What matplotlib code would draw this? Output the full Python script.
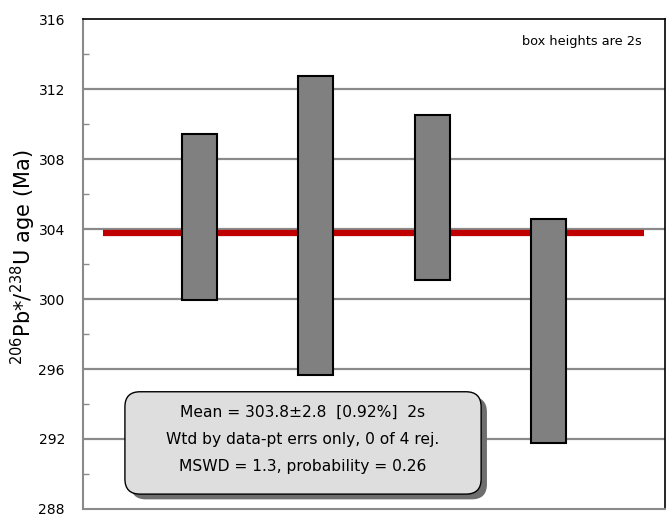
import numpy as np
import matplotlib
matplotlib.use("Agg")
import matplotlib.pyplot as plt
from matplotlib.patches import FancyBboxPatch
from matplotlib.ticker import MultipleLocator

# Weighted-mean plot: 206Pb*/238U ages, box heights are 2s
spots = [1, 2, 3, 4]
age_low = [299.95, 295.65, 301.10, 291.75]
age_high = [309.45, 312.75, 310.50, 304.55]
mean_age = 303.8
mean_err = 2.8

stats_lines = [
    "Mean = 303.8\u00b12.8  [0.92%]  2s",
    "Wtd by data-pt errs only, 0 of 4 rej.",
    "MSWD = 1.3, probability = 0.26",
]

fig = plt.figure(figsize=(6.7, 5.19), dpi=100)
ax = fig.add_axes([0.1239, 0.0193, 0.8687, 0.944])

ax.set_xlim(0, 5)
ax.set_ylim(288, 316)

# horizontal grid
for y in np.arange(292, 316, 4):
    ax.axhline(y, color="#8a8a8a", lw=1.6, zorder=1)

# mean line
ax.plot([0.17, 4.82], [mean_age, mean_age], color="#c00000", lw=4.5,
        solid_capstyle="butt", zorder=2)

# error boxes
heights = np.array(age_high) - np.array(age_low)
ax.bar(spots, heights, bottom=age_low, width=0.3, color="#808080",
       edgecolor="black", linewidth=1.5, zorder=3)

# stats box with drop shadow
aspect = (582 / 5) / (490 / 28)
bx, by, bw, bh = 0.36, 288.85, 3.06, 5.85
shadow = FancyBboxPatch((bx + 0.05, by - 0.3), bw, bh,
                        boxstyle="round,pad=0,rounding_size=0.13",
                        mutation_aspect=aspect, facecolor="#6e6e6e",
                        edgecolor="none", zorder=4)
box = FancyBboxPatch((bx, by), bw, bh,
                     boxstyle="round,pad=0,rounding_size=0.13",
                     mutation_aspect=aspect, facecolor="#dedede",
                     edgecolor="black", lw=1.0, zorder=5)
ax.add_patch(shadow)
ax.add_patch(box)
for i, line in enumerate(stats_lines):
    ax.text(bx + bw / 2, 293.5 - i * 1.55, line, ha="center", va="center",
            fontsize=11.2, zorder=6)

ax.text(0.96, 0.955, "box heights are 2s", transform=ax.transAxes,
        ha="right", va="center", fontsize=9.3)

ax.set_xticks([])
ax.yaxis.set_major_locator(MultipleLocator(4))
ax.yaxis.set_minor_locator(MultipleLocator(2))
ax.tick_params(axis="y", which="major", length=0, pad=13, labelsize=10)
ax.tick_params(axis="y", which="minor", direction="in", length=4,
               width=1, color="#8a8a8a")
for side in ("left", "bottom"):
    ax.spines[side].set_color("#8a8a8a")
    ax.spines[side].set_linewidth(1.5)
for side in ("top", "right"):
    ax.spines[side].set_color("black")
    ax.spines[side].set_linewidth(1.2)

ax.set_ylabel(r"$^{206}$Pb*/$^{238}$U age (Ma)", fontsize=15)
ax.yaxis.set_label_coords(-0.077, 0.514)

fig.savefig("out.png", dpi=100)
